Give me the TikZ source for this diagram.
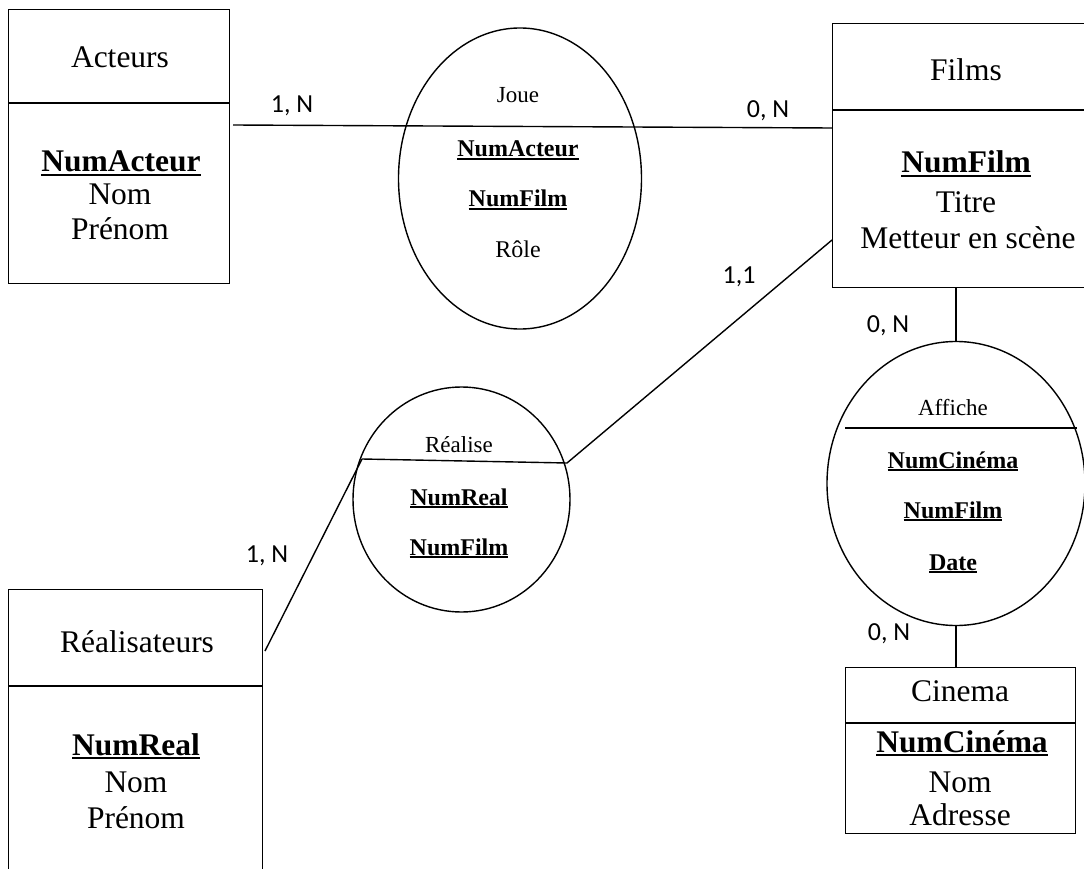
\documentclass[tikz,border=0pt]{standalone}
\usepackage{fontspec}
\setmainfont{Liberation Serif}
\newfontfamily\lblfont{Carlito}
\usetikzlibrary{shapes.geometric}
\newsavebox\ulbox
\newcommand{\ulk}[1]{\sbox\ulbox{#1}\rlap{\rule[-0.13em]{\wd\ulbox}{0.07em}}\usebox\ulbox}
\tikzset{
  ent/.style={draw, line width=1.4pt, rectangle, inner sep=0pt, anchor=north west},
  rel/.style={draw, ellipse, line width=1.4pt, inner sep=0pt},
  bigtxt/.style={anchor=base, inner sep=0pt, font=\fontsize{31.5}{36}\selectfont},
  smalltxt/.style={anchor=base, inner sep=0pt, font=\fontsize{24}{28}\selectfont},
  nametxt/.style={anchor=base, inner sep=0pt, font=\fontsize{23}{28}\selectfont},
  card/.style={anchor=base, inner sep=0pt, font=\lblfont\fontsize{26}{30}\selectfont},
  link/.style={line width=1.4pt},
}
\begin{document}
\begin{tikzpicture}[x=1pt,y=-1pt]
\useasboundingbox (0,0) rectangle (1084,869);
\fill[white] (0,0) rectangle (1084,869);

% ---------- entities ----------
\node[ent, minimum width=221pt, minimum height=274pt] (acteurs) at (8,9) {};
\draw[link] (acteurs.west |- 0,103) -- (acteurs.east |- 0,103);
\node[bigtxt] (acT) at (120,68) {Acteurs};
\node[bigtxt] (acK) at (121,172) {\bfseries\ulk{NumActeur}};
\node[bigtxt] (acN) at (120,205) {Nom};
\node[bigtxt] (acP) at (120,240) {Prénom};

\node[ent, minimum width=268pt, minimum height=264pt] (films) at (832,23) {};
\draw[link] (films.west |- 0,110) -- (films.east |- 0,110);
\node[bigtxt] (fiT) at (966,81) {Films};
\node[bigtxt] (fiK) at (966,173) {\bfseries\ulk{NumFilm}};
\node[bigtxt] (fiN) at (966,212) {Titre};
\node[bigtxt] (fiM) at (968,248) {Metteur en scène};

\node[ent, minimum width=254pt, minimum height=300pt] (realisateurs) at (8,589) {};
\draw[link] (realisateurs.west |- 0,686) -- (realisateurs.east |- 0,686);
\node[bigtxt] (reT) at (137,652) {Réalisateurs};
\node[bigtxt] (reK) at (136,755) {\bfseries\ulk{NumReal}};
\node[bigtxt] (reN) at (136,792) {Nom};
\node[bigtxt] (reP) at (136,828) {Prénom};

\node[ent, minimum width=230pt, minimum height=166pt] (cinema) at (845,667) {};
\draw[link] (cinema.west |- 0,723) -- (cinema.east |- 0,723);
\node[bigtxt] (ciT) at (960,701) {Cinema};
\node[bigtxt] (ciK) at (962,752) {\bfseries\ulk{NumCinéma}};
\node[bigtxt] (ciN) at (960,792) {Nom};
\node[bigtxt] (ciA) at (960,825) {Adresse};

% ---------- relations ----------
\node[rel, minimum width=243pt, minimum height=301pt] (joue) at (520,178.5) {};
\node[nametxt] (joT) at (518,103) {Joue};
\node[smalltxt] (joK1) at (518,157) {\bfseries\ulk{NumActeur}};
\node[smalltxt] (joK2) at (518,207) {\bfseries\ulk{NumFilm}};
\node[smalltxt] (joR) at (518,258) {Rôle};

\node[rel, minimum width=217pt, minimum height=225pt] (realise) at (461.5,499.5) {};
\coordinate (realL) at (362,459);
\coordinate (realR) at (567,463);
\draw[link] (realL) -- (realR);
\node[nametxt] (rlT) at (459,452) {Réalise};
\node[smalltxt] (rlK1) at (459,505) {\bfseries\ulk{NumReal}};
\node[smalltxt] (rlK2) at (459,555) {\bfseries\ulk{NumFilm}};

\node[rel, minimum width=258pt, minimum height=284pt] (affiche) at (956,483.5) {};
\draw[link] (845,428) -- (1077,428);
\node[nametxt] (afT) at (953,415) {Affiche};
\node[smalltxt] (afK1) at (953,468) {\bfseries\ulk{NumCinéma}};
\node[smalltxt] (afK2) at (953,518) {\bfseries\ulk{NumFilm}};
\node[smalltxt] (afK3) at (953,570) {\bfseries\ulk{Date}};

% ---------- connectors ----------
\coordinate (acEnd) at (233,125);
\draw[link] (acEnd) -- (films.west |- 0,128);
\draw[link] (realR) -- (films.west |- 0,240);
\coordinate (reEnd) at (265,651);
\draw[link] (reEnd) -- (realL);
\draw[link] (affiche.north |- films.south) -- (affiche.north);
\draw[link] (affiche.south) -- (affiche.south |- cinema.north);

% ---------- cardinalities ----------
\node[card] (c1) at (292,113) {1, N};
\node[card] (c2) at (768,118) {0, N};
\node[card] (c3) at (739,283) {1,1};
\node[card] (c4) at (888,332) {0, N};
\node[card] (c5) at (267,562) {1, N};
\node[card] (c6) at (889,640) {0, N};
\end{tikzpicture}
\end{document}
